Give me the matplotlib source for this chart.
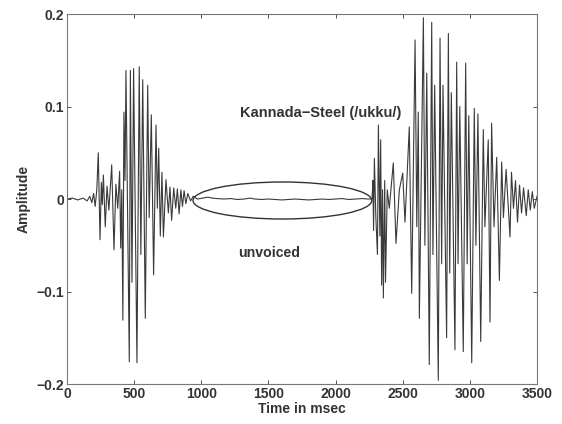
import matplotlib
matplotlib.use("Agg")
import matplotlib.pyplot as plt
from matplotlib.patches import Ellipse

# turning points of the waveform (time in ms, amplitude)
t_first = [0, 40, 80, 120, 150, 170, 185, 198, 210, 222, 233, 246, 256, 263, 271, 285,
           298, 312, 333, 350, 364, 378, 392, 400, 408, 416, 424, 432, 439, 464, 472,
           484, 496, 521, 538, 550, 564, 583, 601, 612, 628, 645, 663, 673, 683, 695,
           707, 718, 737, 755, 767, 779, 795, 810, 822, 835, 848, 860, 872, 885, 900,
           920, 940]
a_first = [0.000, 0.001, -0.001, 0.001, -0.002, 0.003, -0.004, 0.006, -0.008, 0.010,
           0.050, -0.044, 0.018, -0.006, 0.026, -0.030, 0.014, -0.012, 0.037, -0.055,
           0.016, -0.010, 0.030, -0.053, 0.010, -0.131, 0.094, 0.020, 0.139, -0.176,
           0.139, -0.090, 0.141, -0.177, 0.143, -0.060, 0.129, -0.129, 0.123, -0.020,
           0.091, -0.082, 0.080, -0.010, 0.055, -0.040, 0.029, -0.041, 0.021, -0.015,
           0.013, -0.023, 0.012, -0.010, 0.011, -0.016, 0.010, -0.008, 0.009, -0.005,
           0.006, -0.002, 0.003]

t_unvoiced = [970, 1010, 1050, 1080, 1120, 1170, 1220, 1270, 1320, 1363, 1400, 1450,
              1500, 1550, 1600, 1650, 1700, 1750, 1800, 1850, 1900, 1950, 2000, 2050,
              2100, 2150, 2200, 2240, 2265]
a_unvoiced = [0.000, 0.001, 0.002, 0.001, 0.0005, 0.000, 0.0005, -0.0005, 0.000, 0.001,
              0.000, -0.0005, 0.000, -0.0005, -0.001, -0.0005, 0.000, -0.0005, -0.001,
              -0.0005, 0.000, -0.0005, 0.000, 0.0005, -0.0005, 0.000, 0.0005, 0.000, 0.000]

t_second = [2272, 2278, 2283, 2289, 2300, 2312, 2319, 2330, 2336, 2343, 2350, 2356,
            2366, 2372, 2385, 2400, 2430, 2450, 2475, 2500, 2517, 2549, 2567, 2592,
            2605, 2616, 2624, 2654, 2665, 2679, 2698, 2716, 2725, 2738, 2765, 2778,
            2790, 2800, 2827, 2840, 2850, 2862, 2889, 2902, 2912, 2925, 2951, 2969,
            2980, 2992, 3014, 3033, 3045, 3060, 3081, 3100, 3112, 3137, 3150, 3162,
            3180, 3200, 3220, 3237, 3250, 3270, 3299, 3310, 3325, 3340, 3355, 3370,
            3385, 3400, 3420, 3435, 3450, 3465, 3480, 3500]
a_second = [0.000, 0.020, -0.034, 0.044, -0.020, -0.060, 0.080, -0.040, 0.064, -0.093,
            0.010, -0.107, 0.020, -0.090, 0.010, -0.010, 0.039, -0.048, 0.010, 0.028,
            -0.025, 0.078, -0.102, 0.172, -0.030, 0.094, -0.129, 0.196, -0.050, 0.136,
            -0.179, 0.191, -0.060, 0.123, -0.196, 0.174, -0.070, 0.123, -0.150, 0.179,
            -0.080, 0.115, -0.163, 0.148, -0.070, 0.100, -0.165, 0.147, -0.070, 0.090,
            -0.177, 0.098, -0.050, 0.092, -0.154, 0.075, -0.030, 0.064, -0.133, 0.082,
            -0.030, 0.045, -0.088, 0.040, -0.020, 0.032, -0.041, 0.029, -0.010, 0.020,
            -0.025, 0.015, -0.015, 0.012, -0.018, 0.010, -0.012, 0.008, -0.010, 0.003]

xticks = [0, 500, 1000, 1500, 2000, 2500, 3000, 3500]
yticks = [-0.2, -0.1, 0, 0.1, 0.2]
ylabels = ["\u22120.2", "\u22120.1", "0", "0.1", "0.2"]

plt.rcParams["font.family"] = ["Liberation Sans", "DejaVu Sans"]
plt.rcParams["font.weight"] = "bold"

fig = plt.figure(figsize=(5.62, 4.24), dpi=100)
ax = fig.add_axes([0.1192, 0.0943, 0.8363, 0.8726])

t_all = t_first + t_unvoiced + t_second
a_all = a_first + a_unvoiced + a_second
ax.plot(t_all, a_all, color="#3a3a3a", lw=0.8)

# circled silent stretch
ax.add_patch(Ellipse((1604, -0.0016), 1331, 0.040, fill=False, ec="#333333", lw=1.0))

ax.text(1290, 0.093, "Kannada\u2212Steel (/ukku/)", fontsize=10.5, fontweight="bold",
        color="#333333", va="center")
ax.text(1275, -0.058, "unvoiced", fontsize=10.2, fontweight="bold", color="#333333",
        va="center")

ax.set_xlim(0, 3500)
ax.set_ylim(-0.2, 0.2)
ax.set_xticks(xticks)
ax.set_yticks(yticks)
ax.set_yticklabels(ylabels)
ax.tick_params(direction="in", top=True, right=True, length=3, labelsize=10,
               colors="#333333", pad=2, width=0.6)
ax.set_xlabel("Time in msec", fontsize=10, fontweight="bold", color="#333333", labelpad=1)
ax.set_ylabel("Amplitude", fontsize=10, fontweight="bold", color="#333333", labelpad=4)
for s in ax.spines.values():
    s.set_color("#777777")
    s.set_linewidth(0.8)

fig.savefig("out.png", dpi=100)
